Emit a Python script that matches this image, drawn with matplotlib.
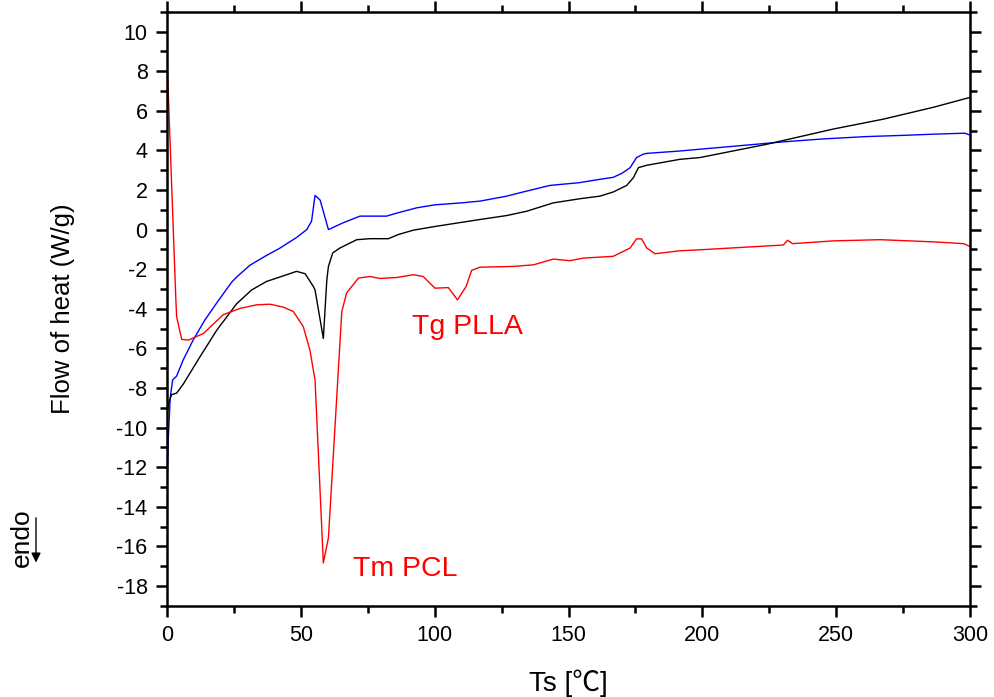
import matplotlib
matplotlib.use("Agg")
import matplotlib.pyplot as plt
from matplotlib.ticker import MultipleLocator

plt.rcParams['font.family'] = ['Liberation Sans', 'DejaVu Sans']
plt.rcParams['axes.unicode_minus'] = False

blue_x = [0, 0.5, 1.2, 2.1, 3.6, 6, 9.7, 14, 18.6, 24.2, 26, 31, 36.6, 42, 48.4, 52.2, 54, 55.3, 57.2,
          60.3, 65.9, 72.1, 82, 86.3, 93.3, 100, 110, 117, 126.9, 133, 143, 154, 161.7, 166.7, 170, 173,
          175.4, 177.9, 179.2, 191.6, 199, 215, 230, 245, 261.4, 275, 286.2, 298, 300]
blue_y = [-12.8, -10.5, -8.5, -7.6, -7.4, -6.6, -5.6, -4.6, -3.7, -2.65, -2.4, -1.8, -1.35, -0.95, -0.4,
          0.0, 0.42, 1.73, 1.49, 0.0, 0.35, 0.68, 0.68, 0.85, 1.1, 1.25, 1.35, 1.44, 1.69, 1.9, 2.23, 2.37,
          2.54, 2.64, 2.85, 3.13, 3.64, 3.81, 3.85, 3.97, 4.06, 4.25, 4.43, 4.58, 4.7, 4.76, 4.82, 4.87, 4.77]

black_x = [0, 0.8, 1.7, 3.6, 6.1, 12.3, 18.6, 26, 31.6, 37.2, 44.7, 48.4, 51.6, 54.7, 55.3, 58.4, 59.7,
           60.3, 61.9, 64.6, 70.9, 75.8, 82.7, 86.4, 92, 100.7, 116.9, 126.9, 134.4, 144.3, 154.3, 161.7,
           166.7, 171.7, 174.2, 176.1, 179.2, 191.6, 199.1, 224, 248.9, 267.6, 286.3, 300]
black_y = [-9.3, -8.7, -8.34, -8.26, -7.8, -6.43, -5.08, -3.75, -3.05, -2.62, -2.28, -2.11, -2.23, -2.88,
           -3.05, -5.5, -2.54, -1.86, -1.18, -0.93, -0.51, -0.46, -0.46, -0.25, -0.03, 0.17, 0.51, 0.71,
           0.93, 1.35, 1.56, 1.69, 1.9, 2.23, 2.62, 3.13, 3.25, 3.55, 3.64, 4.31, 5.08, 5.58, 6.18, 6.68]

red_x = [0, 3.3, 3.6, 5.5, 8, 13.6, 21, 27.3, 33.5, 38.5, 43.5, 47.2, 50.9, 53.4, 55.3, 58.4, 60.3, 65.3,
         67.1, 71.5, 75.8, 79.6, 85.8, 92, 95.7, 100.1, 105.1, 108.5, 111.7, 113.8, 116.9, 129.4, 136.9,
         144.3, 150.5, 155.5, 166.7, 173, 175.4, 177.3, 179.2, 182.3, 191.6, 199.1, 230.2, 231.8, 233.7,
         248.9, 266.4, 286.3, 297.5, 300]
red_y = [8.66, -3.5, -4.4, -5.55, -5.58, -5.25, -4.3, -3.98, -3.8, -3.77, -3.92, -4.14, -4.9, -6.1, -7.6,
         -16.84, -15.57, -4.14, -3.2, -2.45, -2.37, -2.47, -2.42, -2.28, -2.37, -2.96, -2.93, -3.55, -2.88,
         -2.06, -1.9, -1.86, -1.78, -1.49, -1.57, -1.44, -1.35, -0.93, -0.47, -0.47, -0.93, -1.22, -1.07,
         -1.02, -0.78, -0.54, -0.71, -0.57, -0.51, -0.62, -0.71, -0.85]

x_ticks = [0, 50, 100, 150, 200, 250, 300]
y_ticks = list(range(-18, 11, 2))

fig = plt.figure(figsize=(9.94, 6.97), dpi=100)
ax = fig.add_axes([0.168, 0.131, 0.808, 0.852])

ax.plot(blue_x, blue_y, color='#0000ff', lw=1.0)
ax.plot(black_x, black_y, color='black', lw=1.0)
ax.plot(red_x, red_y, color='#ff0000', lw=1.0)

ax.set_xlim(0, 300)
ax.set_ylim(-19, 11)
ax.set_xticks(x_ticks)
ax.set_yticks(y_ticks)
ax.xaxis.set_minor_locator(MultipleLocator(25))
ax.yaxis.set_minor_locator(MultipleLocator(1))
ax.tick_params(which='both', direction='out', top=True, right=True, width=1.8,
               labeltop=False, labelright=False)
ax.tick_params(which='major', length=8, labelsize=15.5, pad=6)
ax.tick_params(which='minor', length=5)
for s in ax.spines.values():
    s.set_linewidth(1.8)

ax.set_xlabel('Ts [℃]', fontsize=20, family=['Liberation Sans', 'Noto Sans CJK SC', 'DejaVu Sans'], labelpad=17)
ax.set_ylabel('Flow of heat (W/g)', fontsize=18.5, labelpad=30)

ax.text(91.4, -5.28, 'Tg PLLA', color='#ff0000', fontsize=20.5, ha='left', va='baseline')
ax.text(69.5, -17.5, 'Tm PCL', color='#ff0000', fontsize=20.5, ha='left', va='baseline')

fig.text(0.022, 0.229, 'endo', rotation=90, fontsize=19, ha='center', va='center')
ax.annotate('', xy=(0.0362, 0.189), xytext=(0.0362, 0.261), xycoords='figure fraction',
            textcoords='figure fraction',
            arrowprops=dict(arrowstyle='-|>', color='black', lw=1.0, mutation_scale=14))

fig.savefig('out.png', dpi=100)
